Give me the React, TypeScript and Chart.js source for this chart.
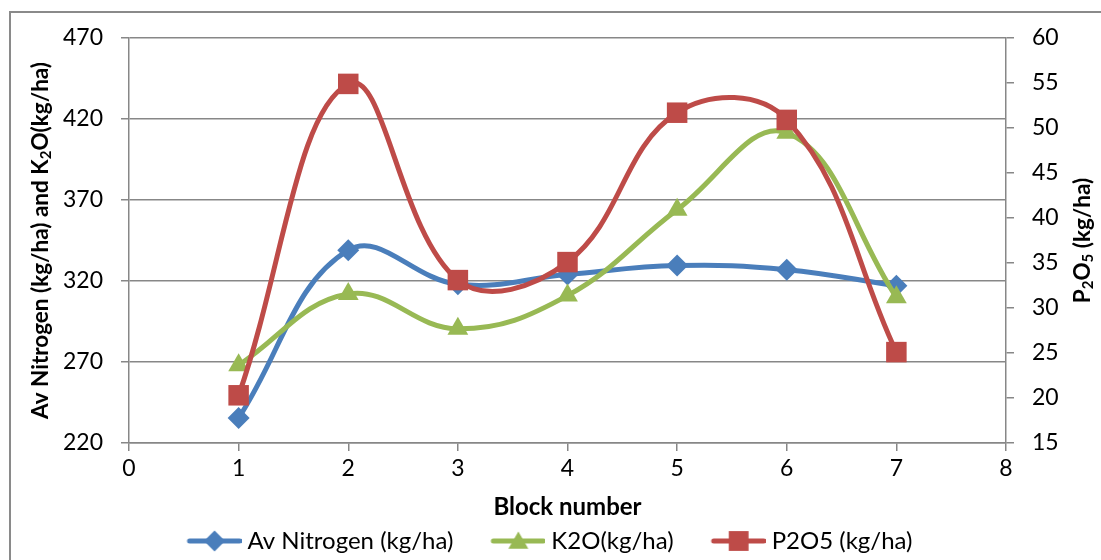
import React, { useEffect, useRef } from "react";
import { Chart, registerables } from "chart.js";

Chart.register(...registerables);

const blocks = [1, 2, 3, 4, 5, 6, 7];
const avNitrogen = [235.5, 339, 318, 324, 329.5, 327, 317];
const k2o = [268, 312, 290.5, 311, 364, 411.5, 310];
const p2o5 = [20.3, 54.9, 33.1, 35.1, 51.7, 50.9, 25.1];

const xTicks = [0, 1, 2, 3, 4, 5, 6, 7, 8];
const leftTicks = [220, 270, 320, 370, 420, 470];
const rightTicks = [15, 20, 25, 30, 35, 40, 45, 50, 55, 60];

const seriesNames = ["Av Nitrogen (kg/ha)", "K2O(kg/ha)", "P2O5 (kg/ha)"];
const BLUE = "#4A7EBB";
const GREEN = "#98B954";
const RED = "#BE4B48";
const GRID = "#878787";
const FONT = "Lato, 'Open Sans', sans-serif";

type Seg = { t: string; sub?: boolean };
const leftTitle: Seg[] = [
  { t: "Av Nitrogen (kg/ha) and K" },
  { t: "2", sub: true },
  { t: "O(kg/ha)" },
];
const rightTitle: Seg[] = [
  { t: "P" },
  { t: "2", sub: true },
  { t: "O" },
  { t: "5", sub: true },
  { t: " (kg/ha)" },
];

function drawRich(ctx: CanvasRenderingContext2D, segs: Seg[], x: number, y: number) {
  const main = `bold 22.5px ${FONT}`;
  const sub = `bold 15px ${FONT}`;
  ctx.save();
  ctx.translate(x, y);
  ctx.rotate(-Math.PI / 2);
  ctx.fillStyle = "#000";
  ctx.textBaseline = "middle";
  ctx.textAlign = "left";
  let total = 0;
  for (const s of segs) {
    ctx.font = s.sub ? sub : main;
    total += ctx.measureText(s.t).width;
  }
  let cx = -total / 2;
  for (const s of segs) {
    ctx.font = s.sub ? sub : main;
    ctx.fillText(s.t, cx, s.sub ? 5.5 : 0);
    cx += ctx.measureText(s.t).width;
  }
  ctx.restore();
}

function markerPath(ctx: CanvasRenderingContext2D, kind: string, x: number, y: number, r: number) {
  ctx.beginPath();
  if (kind === "rectRot") {
    ctx.moveTo(x, y - r);
    ctx.lineTo(x + r, y);
    ctx.lineTo(x, y + r);
    ctx.lineTo(x - r, y);
  } else if (kind === "triangle") {
    ctx.moveTo(x, y - r);
    ctx.lineTo(x + r * 0.866, y + r * 0.5);
    ctx.lineTo(x - r * 0.866, y + r * 0.5);
  } else {
    const h = r * 0.7071;
    ctx.rect(x - h, y - h, 2 * h, 2 * h);
  }
  ctx.closePath();
  ctx.fill();
}

// image is 12px wider than the legend box: line ends 6px right of the box
function legendImage(color: string, kind: string, r: number) {
  const c = document.createElement("canvas");
  c.width = 87;
  c.height = 26;
  const ctx = c.getContext("2d")!;
  ctx.strokeStyle = color;
  ctx.fillStyle = color;
  ctx.lineWidth = 5;
  ctx.lineCap = "round";
  ctx.beginPath();
  ctx.moveTo(35, 13);
  ctx.lineTo(85, 13);
  ctx.stroke();
  markerPath(ctx, kind, 60, kind === "triangle" ? 15 : 13, r);
  return c;
}

const titles = {
  id: "richTitles",
  afterDraw(chart: any) {
    const a = chart.chartArea;
    const cy = (a.top + a.bottom) / 2;
    drawRich(chart.ctx, leftTitle, 41, cy);
    drawRich(chart.ctx, rightTitle, 1083, cy);
  },
};

export default function App() {
  const ref = useRef<HTMLCanvasElement>(null);
  useEffect(() => {
    if (!ref.current) return;
    const pts = (ys: number[]) => blocks.map((b, i) => ({ x: b, y: ys[i] }));
    const styles = [
      { color: BLUE, kind: "rectRot", r: 11 },
      { color: GREEN, kind: "triangle", r: 12 },
      { color: RED, kind: "rect", r: 14.5 },
    ];
    const imgs = [
      legendImage(BLUE, "rectRot", 10.5),
      legendImage(GREEN, "triangle", 11.5),
      legendImage(RED, "rect", 14),
    ];
    const mk = (i: number, ys: number[], axis: string, order: number) => ({
      label: seriesNames[i],
      data: pts(ys),
      yAxisID: axis,
      order,
      borderColor: styles[i].color,
      backgroundColor: styles[i].color,
      pointBackgroundColor: styles[i].color,
      pointBorderColor: styles[i].color,
      pointBorderWidth: 0,
      pointStyle: styles[i].kind,
      pointRadius: styles[i].r,
      borderWidth: 5,
      tension: 0.4,
      fill: false,
    });
    const tickFont = { family: FONT, size: 23 };
    const chart = new Chart(ref.current, {
      type: "line",
      data: {
        datasets: [
          mk(0, avNitrogen, "y", 3),
          mk(1, k2o, "y", 2),
          mk(2, p2o5, "y1", 1),
        ] as any,
      },
      options: {
        responsive: false,
        animation: false,
        layout: { padding: { top: 38, left: 0, right: 28, bottom: -3 } },
        plugins: {
          tooltip: { enabled: false },
          legend: {
            position: "bottom",
            labels: {
              usePointStyle: true,
              pointStyleWidth: 75,
              padding: 11,
              color: "#000",
              font: { family: FONT, size: 24 },
              generateLabels: () =>
                seriesNames.map((n, i) => ({
                  text: n,
                  pointStyle: imgs[i],
                  fillStyle: styles[i].color,
                  strokeStyle: styles[i].color,
                  lineWidth: 0,
                  hidden: false,
                  datasetIndex: i,
                  fontColor: "#000",
                })) as any,
            },
          },
        },
        scales: {
          x: {
            type: "linear",
            min: 0,
            max: 8,
            afterBuildTicks: (s: any) => {
              s.ticks = xTicks.map((v) => ({ value: v }));
            },
            ticks: { font: tickFont, color: "#000", padding: 4 },
            grid: { drawOnChartArea: false, drawTicks: true, tickLength: 8, color: GRID, lineWidth: 1.5 },
            border: { color: GRID, width: 1.5 },
            title: {
              display: true,
              text: "Block number",
              color: "#000",
              font: { family: FONT, size: 24, weight: "bold", lineHeight: 0.92 },
              padding: 0,
            },
            afterFit: (s: any) => {
              s.height = 75;
            },
          },
          y: {
            type: "linear",
            position: "left",
            min: 220,
            max: 470,
            afterBuildTicks: (s: any) => {
              s.ticks = leftTicks.map((v) => ({ value: v }));
            },
            ticks: { font: tickFont, color: "#000", padding: 18 },
            grid: { color: GRID, lineWidth: 1.5, tickLength: 8 },
            border: { color: GRID, width: 1.5 },
            afterFit: (s: any) => {
              s.width = 129;
            },
          },
          y1: {
            type: "linear",
            position: "right",
            min: 15,
            max: 60,
            afterBuildTicks: (s: any) => {
              s.ticks = rightTicks.map((v) => ({ value: v }));
            },
            ticks: { font: tickFont, color: "#000", padding: 18 },
            grid: { drawOnChartArea: false, color: GRID, lineWidth: 1.5, tickLength: 8 },
            border: { color: GRID, width: 1.5 },
            afterFit: (s: any) => {
              s.width = 67;
            },
          },
        },
      },
      plugins: [titles],
    } as any);
    return () => chart.destroy();
  }, []);

  return (
    <div
      style={{
        position: "fixed",
        left: 0,
        top: 0,
        width: 1101,
        height: 560,
        overflow: "hidden",
        background: "#fff",
      }}
    >
      <div
        style={{
          position: "absolute",
          left: 9,
          top: 11,
          width: 1200,
          height: 700,
          borderLeft: "2px solid #8a8a8a",
          borderTop: "2px solid #8a8a8a",
        }}
      />
      <canvas ref={ref} width={1101} height={560} style={{ position: "absolute", left: 0, top: 0, display: "block" }} />
    </div>
  );
}
